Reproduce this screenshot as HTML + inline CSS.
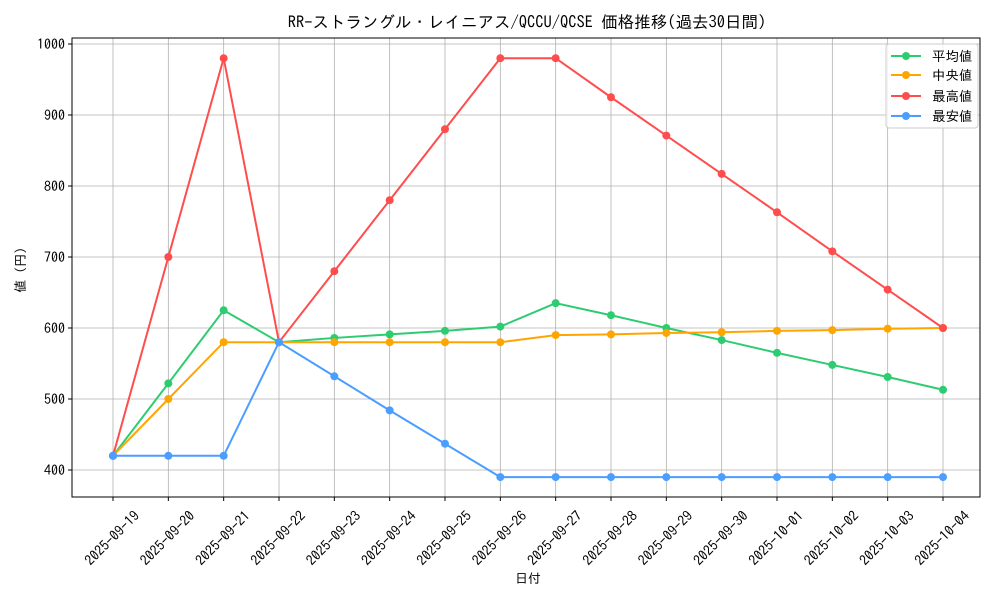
<!DOCTYPE html>
<html><head><meta charset="utf-8"><style>
html,body{margin:0;padding:0;background:#fff;}
svg text{font-family:"IPAGothic","Liberation Mono","Noto Sans CJK JP",monospace;fill:#000;}
</style></head><body>
<svg width="1000" height="600" xmlns="http://www.w3.org/2000/svg">
<rect width="1000" height="600" fill="#fff"/>
<g stroke="#b0b0b0" stroke-width="0.8" id="grid"></g>
<g id="ticks"></g>
<g id="series"></g>
<rect x="72" y="38" width="908" height="459" fill="none" stroke="#000" stroke-width="1"/>
<text x="527" y="28" font-size="16.5" text-anchor="middle">RR-ストラングル・レイニアス/QCCU/QCSE 価格推移(過去30日間)</text>
<text x="528" y="583" font-size="13" text-anchor="middle">日付</text>
<text transform="translate(25,270) rotate(-90)" font-size="13" text-anchor="middle">値 (円)</text>
<g>
<rect x="886" y="44" width="92" height="84" rx="3" fill="#fff" fill-opacity="0.8" stroke="#ccc"/>
<line x1="891" y1="56" x2="921" y2="56" stroke="#2ecc71" stroke-width="2"/><circle cx="906" cy="56" r="4" fill="#2ecc71"/><text x="932" y="61" font-size="13.5">平均値</text>
<line x1="891" y1="75" x2="921" y2="75" stroke="#ffa500" stroke-width="2"/><circle cx="906" cy="75" r="4" fill="#ffa500"/><text x="932" y="80" font-size="13.5"> 中央値</text>
<line x1="891" y1="96" x2="921" y2="96" stroke="#ff4d4d" stroke-width="2"/><circle cx="906" cy="96" r="4" fill="#ff4d4d"/><text x="932" y="101" font-size="13.5">最高値</text>
<line x1="891" y1="116" x2="921" y2="116" stroke="#4a9eff" stroke-width="2"/><circle cx="906" cy="116" r="4" fill="#4a9eff"/><text x="932" y="121" font-size="13.5">最安値</text>
</g>
<script>
var ns="http://www.w3.org/2000/svg";
function el(p,t,a,txt){var e=document.createElementNS(ns,t);for(var k in a)e.setAttribute(k,a[k]);if(txt)e.textContent=txt;document.getElementById(p).appendChild(e);return e;}
var dates=["2025-09-19","2025-09-20","2025-09-21","2025-09-22","2025-09-23","2025-09-24","2025-09-25","2025-09-26","2025-09-27","2025-09-28","2025-09-29","2025-09-30","2025-10-01","2025-10-02","2025-10-03","2025-10-04"];
function X(i){return 113+i*830/15;}
function Y(v){return 470-(v-400)*0.71;}
for(var i=0;i<16;i++){var x=X(i);
el("grid","line",{x1:x,y1:38,x2:x,y2:497});
el("ticks","line",{x1:x,y1:497,x2:x,y2:501,stroke:"#000"});
el("ticks","text",{transform:"translate("+(x-1)+",538) rotate(-45)","font-size":"14","text-anchor":"middle","dominant-baseline":"central"},dates[i]);}
for(var v=400;v<=1000;v+=100){var y=Y(v);
el("grid","line",{x1:72,y1:y,x2:980,y2:y});
el("ticks","line",{x1:68,y1:y,x2:72,y2:y,stroke:"#000"});
el("ticks","text",{x:65,y:y+5,"font-size":"14","text-anchor":"end"},""+v);}
var S=[
["#2ecc71",[420,522,625,580,586,591,596,602,635,618,600,583,565,548,531,513]],
["#ffa500",[420,500,580,580,580,580,580,580,590,591,593,594,596,597,599,600]],
["#ff4d4d",[420,700,980,580,680,780,880,980,980,925,871,817,763,708,654,600]],
["#4a9eff",[420,420,420,580,532,484,437,390,390,390,390,390,390,390,390,390]]];
S.forEach(function(s){var p=s[1].map(function(v,i){return X(i)+","+Y(v);}).join(" ");
el("series","polyline",{points:p,fill:"none",stroke:s[0],"stroke-width":"2"});
s[1].forEach(function(v,i){el("series","circle",{cx:X(i),cy:Y(v),r:4,fill:s[0]});});});
</script>
</svg>
</body></html>
